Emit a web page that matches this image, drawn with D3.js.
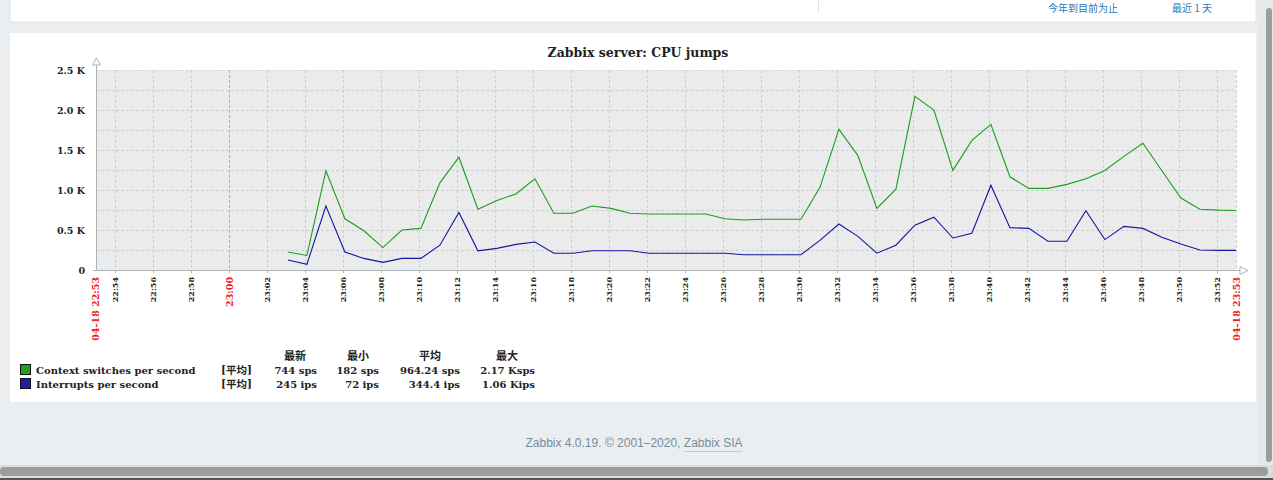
<!DOCTYPE html>
<html>
<head>
<meta charset="utf-8">
<script src="https://cdn.jsdelivr.net/npm/d3@7"></script>
<style>
  html, body { margin: 0; padding: 0; background: #ebeef0; overflow: hidden; }
  svg { display: block; }
</style>
</head>
<body>
<svg id="chart" width="1273" height="480"></svg>
<script>
// ---------- data ----------
const chartTitle = "Zabbix server: CPU jumps";
const day = "2020-04-18";
const timeStart = "22:53:00";
const timeEnd = "23:53:00";
const times = [
  "23:03:06","23:04:06","23:05:06","23:06:06","23:07:06","23:08:06","23:09:06","23:10:06","23:11:06","23:12:06",
  "23:13:06","23:14:06","23:15:06","23:16:06","23:17:06","23:18:06","23:19:06","23:20:06","23:21:06","23:22:06",
  "23:23:06","23:24:06","23:25:06","23:26:06","23:27:06","23:28:06","23:29:06","23:30:06","23:31:06","23:32:06",
  "23:33:06","23:34:06","23:35:06","23:36:06","23:37:06","23:38:06","23:39:06","23:40:06","23:41:06","23:42:06",
  "23:43:06","23:44:06","23:45:06","23:46:06","23:47:06","23:48:06","23:49:06","23:50:06","23:51:06","23:52:06",
  "23:53:00"
];
const contextSwitches = [
  225, 182, 1240, 640, 490, 280, 500, 520, 1090, 1410,
  760, 870, 950, 1140, 710, 710, 800, 770, 710, 700,
  700, 700, 700, 640, 625, 635, 635, 635, 1030, 1760,
  1430, 770, 1010, 2170, 2000, 1245, 1620, 1820, 1165, 1020,
  1020, 1070, 1140, 1245, 1420, 1585, 1240, 900, 760, 748,
  744
];
const interrupts = [
  125, 72, 800, 225, 145, 95, 145, 145, 310, 720,
  240, 270, 320, 350, 210, 210, 240, 240, 240, 210,
  210, 210, 210, 210, 190, 190, 190, 190, 370, 575,
  420, 210, 310, 560, 660, 400, 460, 1060, 530, 520,
  360, 360, 740, 380, 545, 520, 410, 325, 250, 245,
  245
];
const yTickValues = [0, 500, 1000, 1500, 2000, 2500];
const yTickLabels = ["0", "0.5 K", "1.0 K", "1.5 K", "2.0 K", "2.5 K"];
const yGridValues = [250, 500, 750, 1000, 1250, 1500, 1750, 2000, 2250];
const xTickLabels = ["22:54","22:56","22:58","23:00","23:02","23:04","23:06","23:08","23:10","23:12",
  "23:14","23:16","23:18","23:20","23:22","23:24","23:26","23:28","23:30","23:32",
  "23:34","23:36","23:38","23:40","23:42","23:44","23:46","23:48","23:50","23:52"];
const redTickLabel = "23:00";
const startLabel = "04-18 22:53";
const endLabel = "04-18 23:53";
const seriesNames = ["Context switches per second", "Interrupts per second"];
const seriesFunc = ["[平均]", "[平均]"];
const legendHeaders = ["最新", "最小", "平均", "最大"];
const legendValues = [
  ["744 sps", "182 sps", "964.24 sps", "2.17 Ksps"],
  ["245 ips", "72 ips", "344.4 ips", "1.06 Kips"]
];
const seriesColors = ["#17a017", "#1515a5"];
const legendColors = ["#22a022", "#1e1e9e"];
const topLinks = ["今年到目前为止", "最近 1 天"];
const footerText = "Zabbix 4.0.19. © 2001–2020, ";
const footerLink = "Zabbix SIA";

// ---------- setup ----------
const svg = d3.select("#chart");
const parse = d3.timeParse("%Y-%m-%d %H:%M:%S");
const parseHM = d3.timeParse("%Y-%m-%d %H:%M");
const t0 = parse(day + " " + timeStart), t1 = parse(day + " " + timeEnd);

const L = 96, R = 1236, T = 70, B = 270;
const x = d3.scaleTime().domain([t0, t1]).range([L, R]);
const y = d3.scaleLinear().domain([0, 2500]).range([B, T]);

const serifBold = "'DejaVu Serif', serif";

// page background
svg.append("rect").attr("width", 1273).attr("height", 480).attr("fill", "#ebeef0");

// top panel
svg.append("rect").attr("x", 10).attr("y", -2).attr("width", 1246).attr("height", 24)
  .attr("fill", "#ffffff").attr("stroke", "#dfe4e7");
svg.append("line").attr("x1", 818.5).attr("x2", 818.5).attr("y1", 0).attr("y2", 13).attr("stroke", "#dfe4e7");
svg.append("text").attr("x", 1083).attr("y", 12).attr("text-anchor", "middle")
  .attr("font-family", "'Noto Sans CJK SC', sans-serif").attr("font-size", 10).attr("fill", "#1f7ab8").text(topLinks[0]);
svg.append("text").attr("x", 1192).attr("y", 12).attr("text-anchor", "middle")
  .attr("font-family", "'Noto Sans CJK SC', sans-serif").attr("font-size", 10).attr("fill", "#1f7ab8").text(topLinks[1]);

// chart panel
svg.append("rect").attr("x", 10).attr("y", 33).attr("width", 1246).attr("height", 369).attr("fill", "#ffffff");

// title
svg.append("text").attr("x", 638).attr("y", 57).attr("text-anchor", "middle")
  .attr("font-family", serifBold).attr("font-weight", "bold").attr("font-size", 12.5).attr("fill", "#222")
  .text(chartTitle);

// plot background
svg.append("rect").attr("x", L).attr("y", T).attr("width", R - L).attr("height", B - T).attr("fill", "#ebebeb");

// horizontal grid
svg.append("g").selectAll("line").data(yGridValues).join("line")
  .attr("x1", L).attr("x2", R).attr("y1", d => Math.round(y(d)) + 0.5).attr("y2", d => Math.round(y(d)) + 0.5)
  .attr("stroke", "#c8d0d6").attr("stroke-dasharray", "3,2");
svg.append("line").attr("x1", L).attr("x2", R).attr("y1", T + 0.5).attr("y2", T + 0.5)
  .attr("stroke", "#d6dbe0").attr("stroke-dasharray", "3,2");

// vertical grid
const xTickTimes = xTickLabels.map(s => parseHM(day + " " + s));
svg.append("g").selectAll("line").data(xTickTimes).join("line")
  .attr("x1", d => Math.round(x(d)) + 0.5).attr("x2", d => Math.round(x(d)) + 0.5)
  .attr("y1", T).attr("y2", B)
  .attr("stroke", (d, i) => xTickLabels[i] === redTickLabel ? "#a9b1b8" : "#c8d0d6")
  .attr("stroke-dasharray", "3,2");
svg.append("line").attr("x1", R + 0.5).attr("x2", R + 0.5).attr("y1", T).attr("y2", B)
  .attr("stroke", "#c8d0d6").attr("stroke-dasharray", "3,2");

// axes
const axisColor = "#a7b3bc";
svg.append("line").attr("x1", L + 0.5).attr("x2", L + 0.5).attr("y1", 62).attr("y2", B + 1).attr("stroke", axisColor);
svg.append("path").attr("d", `M${L + 0.5},${58} L${L - 3.5},${65} L${L + 4.5},${65} Z`)
  .attr("fill", "#fff").attr("stroke", axisColor);
svg.append("line").attr("x1", L - 3).attr("x2", R + 4).attr("y1", B + 0.5).attr("y2", B + 0.5).attr("stroke", axisColor);
svg.append("path").attr("d", `M${R + 12},${B + 0.5} L${R + 4},${B - 3.5} L${R + 4},${B + 4.5} Z`)
  .attr("fill", "#fff").attr("stroke", axisColor);
svg.append("g").selectAll("line").data(xTickTimes).join("line")
  .attr("x1", d => Math.round(x(d)) + 0.5).attr("x2", d => Math.round(x(d)) + 0.5)
  .attr("y1", B).attr("y2", B + 3).attr("stroke", axisColor);

// y labels
svg.append("g").selectAll("text").data(yTickValues).join("text")
  .attr("x", 85).attr("y", d => y(d) + 3.5).attr("text-anchor", "end")
  .attr("font-family", serifBold).attr("font-weight", "bold").attr("font-size", 9.5).attr("fill", "#222")
  .text((d, i) => yTickLabels[i]);

// x labels
function vlabel(xpos, txt, color, size) {
  svg.append("text")
    .attr("transform", `translate(${xpos + size * 0.36},277) rotate(-90)`)
    .attr("text-anchor", "end")
    .attr("font-family", serifBold).attr("font-weight", "bold").attr("font-size", size)
    .attr("fill", color).text(txt);
}
xTickTimes.forEach((d, i) => {
  const red = xTickLabels[i] === redTickLabel;
  vlabel(Math.round(x(d)) + 0.5, xTickLabels[i], red ? "#ee2222" : "#222", red ? 9.5 : 8);
});
vlabel(x(t0) - 0.5, startLabel, "#ee2222", 9.5);
vlabel(x(t1) + 1, endLabel, "#ee2222", 9.5);

// lines
const tData = times.map(s => parse(day + " " + s));
const line = d3.line().x((d, i) => x(tData[i])).y(d => y(d));
[contextSwitches, interrupts].forEach((vals, k) => {
  svg.append("path").datum(vals).attr("d", line)
    .attr("fill", "none").attr("stroke", seriesColors[k]).attr("stroke-width", 1.1);
});

// legend
const legFont = serifBold;
const colRight = [317, 379, 460, 535];
const colCenter = [295, 358, 430, 507];
legendHeaders.forEach((h, i) => {
  svg.append("text").attr("x", colCenter[i]).attr("y", 360).attr("text-anchor", "middle")
    .attr("font-family", "'Noto Sans CJK SC', sans-serif").attr("font-weight", "bold")
    .attr("font-size", 11).attr("fill", "#222").text(h);
});
seriesNames.forEach((name, k) => {
  const yy = 374 + k * 14;
  svg.append("rect").attr("x", 20.5).attr("y", yy - 9.5).attr("width", 10).attr("height", 10)
    .attr("fill", legendColors[k]).attr("stroke", "#111");
  svg.append("text").attr("x", 36).attr("y", yy).attr("font-family", legFont).attr("font-weight", "bold")
    .attr("font-size", 10).attr("fill", "#222").text(name);
  svg.append("text").attr("x", 221).attr("y", yy).attr("font-family", "'DejaVu Serif', 'Noto Sans CJK SC', serif").attr("font-weight", "bold")
    .attr("font-size", 10.5).attr("fill", "#222").text(seriesFunc[k]);
  legendValues[k].forEach((v, i) => {
    svg.append("text").attr("x", colRight[i]).attr("y", yy).attr("text-anchor", "end")
      .attr("font-family", legFont).attr("font-weight", "bold").attr("font-size", 10)
      .attr("fill", "#222").text(v);
  });
});

// footer
const ft = svg.append("text").attr("x", 634).attr("y", 447).attr("text-anchor", "middle")
  .attr("font-family", "'Liberation Sans', Arial, sans-serif").attr("font-size", 12).attr("fill", "#768d99");
ft.append("tspan").text(footerText);
ft.append("tspan").attr("id", "flink").text(footerLink);
const bb = document.getElementById("flink").getComputedTextLength();
const total = ft.node().getComputedTextLength();
const fx0 = 634 + total / 2 - bb;
svg.append("line").attr("x1", fx0).attr("x2", fx0 + bb).attr("y1", 451.5).attr("y2", 451.5).attr("stroke", "#c3ccd1");

// scrollbars
svg.append("rect").attr("x", 1258).attr("y", 0).attr("width", 15).attr("height", 465).attr("fill", "#e6e8ea");
svg.append("rect").attr("x", 1266).attr("y", 8).attr("width", 6).attr("height", 454).attr("rx", 3).attr("fill", "#9d9d9d");
svg.append("rect").attr("x", 0).attr("y", 465).attr("width", 1273).attr("height", 13).attr("fill", "#dcdcdc");
svg.append("rect").attr("x", 0).attr("y", 467).attr("width", 1268).attr("height", 9).attr("rx", 4).attr("fill", "#9c9c9c");
svg.append("rect").attr("x", 0).attr("y", 478).attr("width", 1273).attr("height", 2).attr("fill", "#555");
</script>
</body>
</html>
